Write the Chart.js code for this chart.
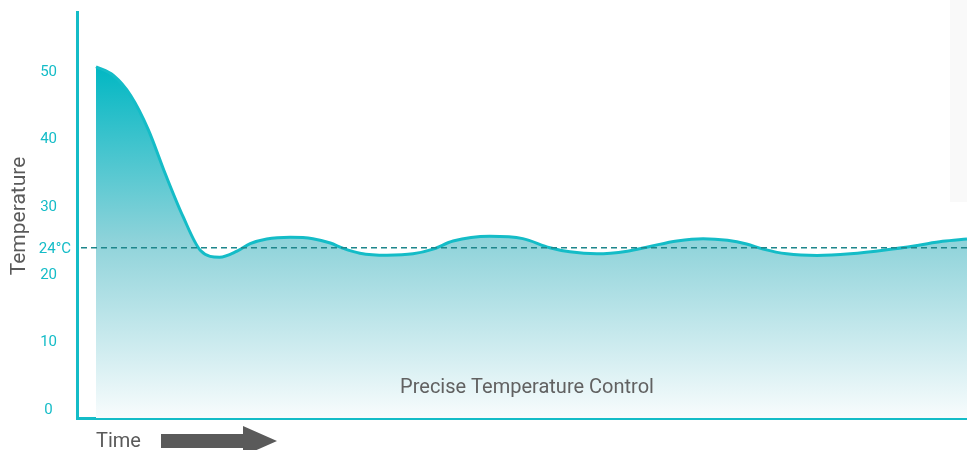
<!DOCTYPE html>
<html>
<head>
<meta charset="utf-8">
<script src="https://cdn.jsdelivr.net/npm/chart.js@4/dist/chart.umd.min.js"></script>
<style>
  html, body { margin: 0; padding: 0; background: #fff; }
  #wrap { width: 967px; height: 450px; position: relative; }
</style>
</head>
<body>
<div id="wrap"><canvas id="chart"></canvas></div>
<script>
// time (arbitrary units) and temperature readings
const timeSteps = [0, 2, 4, 6, 8, 10, 12, 14.2, 16.2, 17.7, 19.6, 22.3, 24.9, 26.9, 28.4, 30.3, 33.4, 36.4, 38.7, 41.0, 45.2, 49.0, 52.1, 54.4, 57.5, 61.0, 63.6, 66.7, 69.7, 72.5, 74.7, 76.6, 79.3, 82.8, 86.6, 90.8, 94.3, 97.2, 100];
const temperatures = [50.8, 49.5, 46.5, 41.5, 34.8, 28.6, 23.6, 22.6, 23.5, 24.6, 25.3, 25.55, 25.35, 24.7, 23.9, 23.2, 22.9, 23.1, 23.8, 25.0, 25.7, 25.35, 24.0, 23.4, 23.1, 23.5, 24.2, 25.0, 25.35, 25.1, 24.55, 23.8, 23.1, 22.85, 23.1, 23.7, 24.35, 24.95, 25.3];
const yTicks = [0, 10, 20, 30, 40, 50];
const targetTemp = 24;
const targetLabel = "24°C";

const CYAN = "#14bcc7";
const GRAY = "#5a5a5a";

const points = timeSteps.map((t, i) => ({ x: t, y: temperatures[i] }));

// extra drawing: target line, labels, arrow
const decorations = {
  id: "decorations",
  beforeDraw(chart) {
    const { ctx } = chart;
    ctx.save();
    ctx.fillStyle = "#f9f9f9";
    ctx.fillRect(950, 0, 17, 202);
    ctx.restore();
  },
  afterDatasetsDraw(chart) {
    const { ctx, chartArea, scales } = chart;
    const y = scales.y.getPixelForValue(targetTemp);
    ctx.save();
    ctx.strokeStyle = "#1d868b";
    ctx.lineWidth = 1.3;
    ctx.setLineDash([6, 4]);
    ctx.beginPath();
    ctx.moveTo(chartArea.left + 4, y);
    ctx.lineTo(chartArea.right, y);
    ctx.stroke();
    ctx.setLineDash([]);

    ctx.fillStyle = CYAN;
    ctx.font = "15px Roboto";
    ctx.textAlign = "right";
    ctx.textBaseline = "middle";
    ctx.fillText(targetLabel, chartArea.left - 6, y + 1);
    ctx.restore();
  },
  afterDraw(chart) {
    const { ctx, chartArea } = chart;
    ctx.save();
    ctx.fillStyle = GRAY;

    // y title
    ctx.font = "21px Roboto";
    ctx.textAlign = "center";
    ctx.textBaseline = "alphabetic";
    ctx.save();
    ctx.translate(25, 216);
    ctx.rotate(-Math.PI / 2);
    ctx.fillText("Temperature", 0, 0);
    ctx.restore();

    // x title and arrow
    ctx.font = "20px Roboto";
    ctx.textAlign = "left";
    ctx.fillText("Time", 96, 447);
    const ay = 441;
    ctx.beginPath();
    ctx.rect(161, ay - 7, 83, 14);
    ctx.moveTo(243, ay - 15);
    ctx.lineTo(277, ay);
    ctx.lineTo(243, ay + 15);
    ctx.closePath();
    ctx.fill();

    // caption
    ctx.fillStyle = "#616161";
    ctx.font = "20px Roboto";
    ctx.textAlign = "center";
    ctx.fillText("Precise Temperature Control", (chartArea.left + chartArea.right) / 2 + 5, 393);
    ctx.restore();
  }
};

new Chart(document.getElementById("chart"), {
  type: "line",
  data: {
    datasets: [{
      data: points,
      borderColor: CYAN,
      borderWidth: 3,
      pointRadius: 0,
      cubicInterpolationMode: "monotone",
      fill: "start",
      backgroundColor(context) {
        const { chart } = context;
        const area = chart.chartArea;
        if (!area) return "rgba(0,183,195,0.5)";
        const top = chart.scales.y.getPixelForValue(51);
        const g = chart.ctx.createLinearGradient(0, top, 0, area.bottom);
        g.addColorStop(0, "#00b7c3");
        g.addColorStop(0.5, "#8fd3da");
        g.addColorStop(1, "#f8fcfd");
        return g;
      }
    }]
  },
  options: {
    responsive: true,
    maintainAspectRatio: false,
    animation: false,
    layout: { padding: { top: 12, bottom: 32, left: 0, right: 0 } },
    plugins: { legend: { display: false }, tooltip: { enabled: false } },
    scales: {
      x: {
        type: "linear",
        min: -2.18,
        max: 100,
        z: 1,
        grid: { display: false },
        ticks: { display: false },
        border: { display: true, color: CYAN, width: 3 },
        afterFit(scale) {
          scale.height = 0;
          scale.paddingLeft = scale.paddingRight = 0;
        }
      },
      y: {
        min: -1.2,
        max: 58.9,
        z: 1,
        grid: { display: false, drawTicks: false },
        border: { display: true, color: CYAN, width: 3 },
        afterBuildTicks(scale) { scale.ticks = yTicks.map(v => ({ value: v })); },
        afterFit(scale) {
          scale.width = 77;
          scale.paddingTop = scale.paddingBottom = 0;
        },
        ticks: {
          color: CYAN,
          font: { family: "Roboto", size: 15 },
          crossAlign: "center",
          padding: 20
        }
      }
    }
  },
  plugins: [decorations]
});
</script>
</body>
</html>
